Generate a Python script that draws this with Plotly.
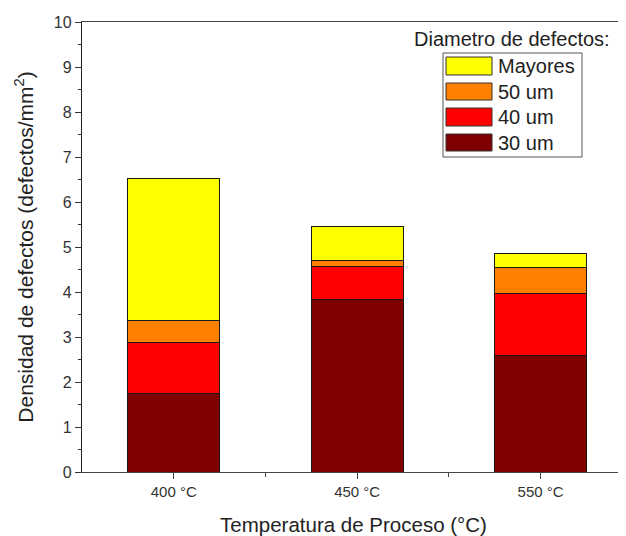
import plotly.graph_objects as go

categories = ["400 °C", "450 °C", "550 °C"]
series_names = ["30 um", "40 um", "50 um", "Mayores"]
v30 = [1.74, 3.83, 2.59]
v40 = [1.14, 0.74, 1.38]
v50 = [0.48, 0.14, 0.58]
vmay = [3.17, 0.75, 0.30]
colors = ["#800000", "#FF0000", "#FF8000", "#FFFF00"]
yticks = list(range(0, 11))

OFF = 8  # page body margin
W, H = 626 - OFF, 536 - OFF
L, R, T, B = 82 - OFF, 1, 22 - OFF, 64
pw, ph = W - L - R, H - T - B

xpos = list(range(len(categories)))
fig = go.Figure()
for name, vals, col in zip(series_names, [v30, v40, v50, vmay], colors):
    fig.add_trace(go.Bar(x=xpos, y=vals, name=name, width=0.5,
                         marker=dict(color=col, line=dict(color="#1a1a1a", width=1)),
                         showlegend=False))

def px(x):
    return (x - OFF - L) / pw

def py(y):
    return (H - B - (y - OFF)) / ph

font = "Liberation Sans, Arial, sans-serif"
shapes = [dict(type="rect", xref="paper", yref="paper", x0=px(443), x1=px(582), y0=py(157), y1=py(53),
               line=dict(color="#555", width=1), fillcolor="white", layer="above")]
annotations = [dict(text="Diametro de defectos:", xref="paper", yref="paper", x=px(512), y=py(39),
                    showarrow=False, font=dict(family=font, size=20, color="#222"), xanchor="center", yanchor="middle")]
legend_rows = [(57, 75), (83, 100), (108, 126), (134, 151)]
for (y0, y1), name, col in zip(legend_rows, series_names[::-1], colors[::-1]):
    shapes.append(dict(type="rect", xref="paper", yref="paper", x0=px(446), x1=px(492), y0=py(y1), y1=py(y0),
                       fillcolor=col, line=dict(color="#333", width=1), layer="above"))
    annotations.append(dict(text=name, xref="paper", yref="paper", x=px(496), y=py((y0 + y1) / 2),
                            showarrow=False, xanchor="left", yanchor="middle",
                            font=dict(family=font, size=20, color="#222")))

fig.update_layout(
    width=W, height=H, barmode="stack", bargap=0.5,
    margin=dict(l=L, r=R, t=T, b=B, autoexpand=False),
    plot_bgcolor="white", paper_bgcolor="white",
    font=dict(family=font, color="#222"),
    shapes=shapes, annotations=annotations,
    xaxis=dict(range=[-0.5, 2.46], tickvals=xpos, ticktext=categories, automargin=False,
               showgrid=False, zeroline=False, showline=True, linecolor="#444", linewidth=1.3,
               mirror=True, ticks="outside", ticklen=6, tickcolor="#444",
               minor=dict(tickvals=[0.5, 1.5], ticks="outside", ticklen=4, tickcolor="#444"),
               tickfont=dict(size=15, color="#333"),
               title=dict(text="Temperatura de Proceso (°C)", font=dict(size=20.5, color="#222"), standoff=19)),
    yaxis=dict(range=[0, 10], tickvals=yticks, showgrid=False, zeroline=False, automargin=False,
               showline=True, linecolor="#222", linewidth=1.3, mirror=True,
               ticks="outside", ticklen=6, tickcolor="#333",
               minor=dict(dtick=0.5, ticks="outside", ticklen=3, tickcolor="#333"),
               tickfont=dict(size=16, color="#333"),
               title=dict(text="Densidad de defectos (defectos/mm<sup>2</sup>)",
                          font=dict(size=21, color="#222"), standoff=14)),
)

fig.write_html("out.html")
